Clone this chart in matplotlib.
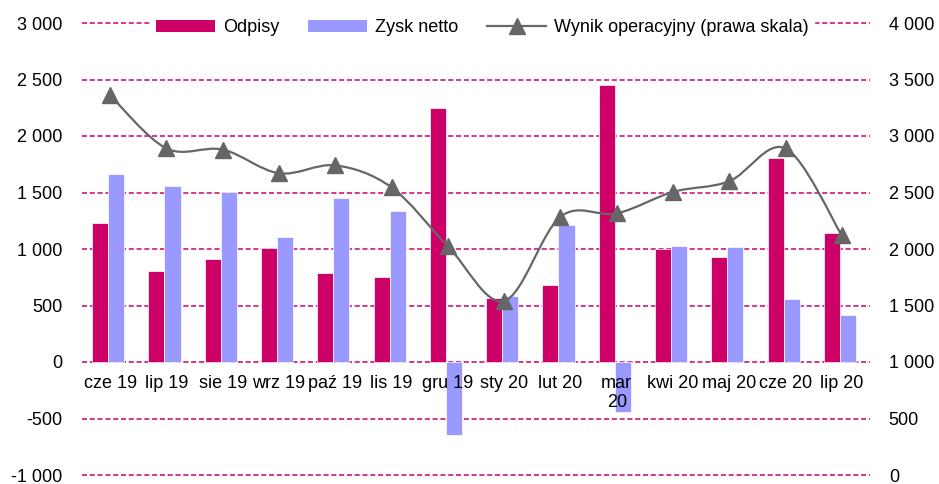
import matplotlib
matplotlib.use("Agg")
import matplotlib.pyplot as plt
from matplotlib.path import Path
from matplotlib.patches import PathPatch
from matplotlib.lines import Line2D
from matplotlib.patches import Patch
import numpy as np

plt.rcParams['font.family'] = ['Liberation Sans', 'DejaVu Sans']

categories = ["cze 19", "lip 19", "sie 19", "wrz 19", "paź 19", "lis 19", "gru 19",
              "sty 20", "lut 20", "mar\n20", "kwi 20", "maj 20", "cze 20", "lip 20"]
odpisy = [1230, 805, 910, 1005, 785, 750, 2245, 565, 680, 2455, 1000, 925, 1805, 1140]
zysk_netto = [1665, 1560, 1505, 1105, 1455, 1335, -650, 580, 1210, -445, 1030, 1015, 560, 415]
wynik_oper = [3360, 2890, 2880, 2670, 2740, 2545, 2025, 1540, 2285, 2315, 2505, 2600, 2890, 2120]

left_ticks = [-1000, -500, 0, 500, 1000, 1500, 2000, 2500, 3000]
right_ticks = [0, 500, 1000, 1500, 2000, 2500, 3000, 3500, 4000]

def fmt(v):
    return f"{v:,}".replace(",", " ")

C_ODP = "#CC0066"
C_ZYSK = "#9999FF"
C_LINE = "#666666"
FS = 13

fig = plt.figure(figsize=(9.39, 4.84), dpi=100)
ax = fig.add_axes([82/939, 1 - 475/484, (870 - 82)/939, (475 - 23)/484])
ax2 = ax.twinx()

x = np.arange(len(categories))
bw = 0.285
ax.bar(x - bw/2 - 0.035, odpisy, width=bw, color=C_ODP, edgecolor="white", linewidth=0.5, zorder=2)
ax.bar(x + bw/2 - 0.035, zysk_netto, width=bw, color=C_ZYSK, edgecolor="white", linewidth=0.5, zorder=2)

ax.set_xlim(-0.5, len(categories) - 0.5)
ax.set_ylim(-1000, 3000)
ax.set_yticks(left_ticks)
ax.set_yticklabels([fmt(v) for v in left_ticks], fontsize=FS)
ax.tick_params(axis='y', length=0, pad=14)
ax.set_xticks([])
for yv in left_ticks:
    ax.axhline(yv, color=C_ODP, linestyle=(0, (3.3, 1.8)), linewidth=1.1, zorder=1, clip_on=False)
for s in ax.spines.values():
    s.set_visible(False)

for xi, lab in zip(x, categories):
    ax.annotate(lab, (xi, 0), xytext=(0, -9), textcoords="offset points",
                ha="center", va="top", fontsize=FS, linespacing=1.2)

# right axis: smoothed line
ax2.set_ylim(0, 4000)
ax2.set_yticks(right_ticks)
ax2.set_yticklabels([fmt(v) for v in right_ticks], fontsize=FS)
ax2.tick_params(axis='y', length=0, pad=13.5)
for s in ax2.spines.values():
    s.set_visible(False)

pts = np.column_stack([x, np.array(wynik_oper, dtype=float)])
verts = [pts[0]]
codes = [Path.MOVETO]
n = len(pts)
for i in range(n - 1):
    p0 = pts[i - 1] if i > 0 else pts[i]
    p1 = pts[i]
    p2 = pts[i + 1]
    p3 = pts[i + 2] if i + 2 < n else pts[i + 1]
    c1 = p1 + (p2 - p0) / 6
    c2 = p2 - (p3 - p1) / 6
    verts += [c1, c2, p2]
    codes += [Path.CURVE4, Path.CURVE4, Path.CURVE4]
path = Path(verts, codes)
ax2.add_patch(PathPatch(path, facecolor="none", edgecolor=C_LINE, linewidth=1.6, zorder=3))
ax2.plot(x, wynik_oper, linestyle="none", marker="^", markersize=12, color=C_LINE, zorder=4)

handles = [Patch(facecolor=C_ODP), Patch(facecolor=C_ZYSK),
           Line2D([0], [0], color=C_LINE, linewidth=1.6, marker="^", markersize=11)]
labels = ["Odpisy", "Zysk netto", "Wynik operacyjny (prawa skala)"]
leg = fig.legend(handles, labels, ncol=3, loc="center", bbox_to_anchor=(482/939, 1 - 28/484),
                 fontsize=FS, frameon=True, handlelength=3.3, handleheight=0.6,
                 columnspacing=1.6, handletextpad=0.4, borderpad=0.3)
leg.get_frame().set_facecolor("white")
leg.get_frame().set_edgecolor("white")
leg.get_frame().set_alpha(1)

fig.savefig("out.png", dpi=100)
